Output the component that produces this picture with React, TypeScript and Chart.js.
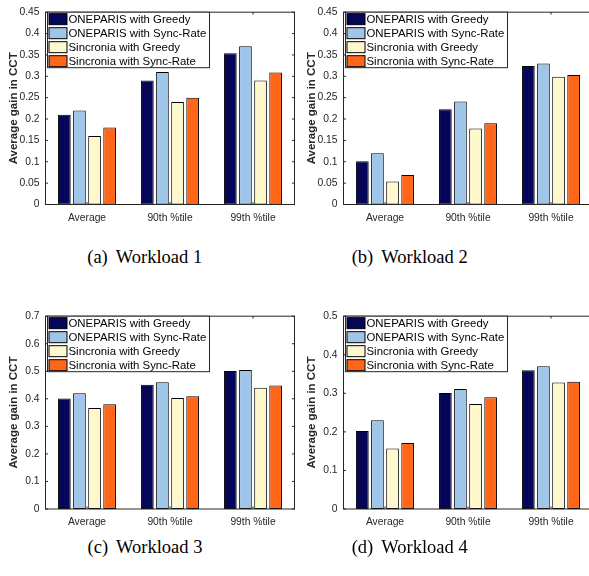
import React, { useEffect, useRef } from "react";
import { Chart, registerables } from "chart.js";

Chart.register(...registerables);

// ---------- data ----------
const categories = ["Average", "90th %tile", "99th %tile"];
const seriesNames = [
  "ONEPARIS with Greedy",
  "ONEPARIS with Sync-Rate",
  "Sincronia with Greedy",
  "Sincronia with Sync-Rate",
];
const seriesColors = ["#05055a", "#9fc5e8", "#fff8cc", "#ff6618"];

// Workload 1
const w1OneparisGreedy = [0.21, 0.29, 0.354];
const w1OneparisSyncRate = [0.22, 0.31, 0.37];
const w1SincroniaGreedy = [0.16, 0.24, 0.29];
const w1SincroniaSyncRate = [0.18, 0.25, 0.309];
// Workload 2
const w2OneparisGreedy = [0.101, 0.223, 0.324];
const w2OneparisSyncRate = [0.12, 0.241, 0.33];
const w2SincroniaGreedy = [0.054, 0.178, 0.299];
const w2SincroniaSyncRate = [0.069, 0.19, 0.303];
// Workload 3
const w3OneparisGreedy = [0.401, 0.451, 0.501];
const w3OneparisSyncRate = [0.42, 0.46, 0.505];
const w3SincroniaGreedy = [0.367, 0.403, 0.44];
const w3SincroniaSyncRate = [0.38, 0.409, 0.448];
// Workload 4
const w4OneparisGreedy = [0.202, 0.301, 0.36];
const w4OneparisSyncRate = [0.23, 0.311, 0.37];
const w4SincroniaGreedy = [0.157, 0.272, 0.328];
const w4SincroniaSyncRate = [0.171, 0.29, 0.33];

const yMaxes = [0.45, 0.45, 0.7, 0.5];
const ySteps = [0.05, 0.05, 0.1, 0.1];
const captionTags = ["(a)", "(b)", "(c)", "(d)"];
const captionTexts = ["Workload 1", "Workload 2", "Workload 3", "Workload 4"];
const yAxisTitle = "Average gain in CCT";

const panelSeries = [
  [w1OneparisGreedy, w1OneparisSyncRate, w1SincroniaGreedy, w1SincroniaSyncRate],
  [w2OneparisGreedy, w2OneparisSyncRate, w2SincroniaGreedy, w2SincroniaSyncRate],
  [w3OneparisGreedy, w3OneparisSyncRate, w3SincroniaGreedy, w3SincroniaSyncRate],
  [w4OneparisGreedy, w4OneparisSyncRate, w4SincroniaGreedy, w4SincroniaSyncRate],
];

// ---------- styling ----------
const SANS = "'Liberation Sans', Arial, Helvetica, sans-serif";
const SERIF = "'Liberation Serif', 'Times New Roman', serif";
const AXIS = "#262626";

const CW = 300;
const CH = 232;

const framePlugin = {
  id: "matlabFrame",
  afterDraw(chart: any) {
    const { ctx, chartArea: ca, scales } = chart;
    const L = ca.left, R = ca.right, T = ca.top, B = ca.bottom;
    const tl = 2.5;
    ctx.save();
    ctx.strokeStyle = AXIS;
    ctx.lineWidth = 1;
    // ticks
    ctx.beginPath();
    const ys = scales.y;
    ys.ticks.forEach((_t: any, i: number) => {
      const p = ys.getPixelForTick(i);
      ctx.moveTo(L, p); ctx.lineTo(L + tl, p);
      ctx.moveTo(R, p); ctx.lineTo(R - tl, p);
    });
    const xs = scales.x;
    xs.ticks.forEach((_t: any, i: number) => {
      const p = xs.getPixelForTick(i);
      ctx.moveTo(p, B); ctx.lineTo(p, B - tl);
      ctx.moveTo(p, T); ctx.lineTo(p, T + tl);
    });
    ctx.stroke();
    // frame
    ctx.strokeRect(L, T, R - L, B - T);

    // legend
    const bx = L + 2, by = T, bw = 162, bh = 55.5;
    ctx.fillStyle = "#ffffff";
    ctx.fillRect(bx, by, bw, bh);
    ctx.strokeStyle = AXIS;
    ctx.strokeRect(bx, by, bw, bh);
    ctx.font = `11.4px ${SANS}`;
    ctx.textBaseline = "middle";
    ctx.textAlign = "left";
    chart.data.datasets.forEach((ds: any, i: number) => {
      const sy = by + 1.5 + i * 14;
      ctx.fillStyle = ds.backgroundColor;
      ctx.fillRect(bx + 1.5, sy, 18, 11);
      ctx.strokeStyle = "#000000";
      ctx.strokeRect(bx + 1.5, sy, 18, 11);
      ctx.fillStyle = "#000000";
      ctx.fillText(ds.label, bx + 21, sy + 6);
    });
    ctx.restore();
  },
};

function Panel({ idx, left, top }: { idx: number; left: number; top: number }) {
  const ref = useRef<HTMLCanvasElement | null>(null);
  useEffect(() => {
    if (!ref.current) return;
    const series = panelSeries[idx];
    const bottomH = idx < 2 ? 27.5 : 27;
    const chart = new Chart(ref.current, {
      type: "bar",
      data: {
        labels: categories,
        datasets: series.map((vals, i) => ({
          label: seriesNames[i],
          data: vals,
          backgroundColor: seriesColors[i],
          borderColor: "#000000",
          borderWidth: 1,
          borderSkipped: false,
          categoryPercentage: 0.727,
          barPercentage: 0.84,
        })),
      },
      options: {
        animation: false,
        responsive: false,
        devicePixelRatio: 1,
        events: [],
        layout: { padding: { top: 9.5, right: 5.5, left: 0, bottom: 0 } },
        plugins: {
          legend: { display: false },
          tooltip: { enabled: false },
          title: { display: false },
        },
        scales: {
          x: {
            type: "category",
            offset: true,
            grid: { display: false, drawTicks: false },
            border: { display: false },
            ticks: {
              font: { family: SANS, size: 10.3 },
              color: AXIS,
              padding: 7,
              maxRotation: 0,
              autoSkip: false,
            },
            afterFit: (s: any) => {
              s.height = bottomH;
            },
          },
          y: {
            type: "linear",
            min: 0,
            max: yMaxes[idx],
            grid: { display: false, drawTicks: false },
            border: { display: false },
            ticks: {
              stepSize: ySteps[idx],
              font: { family: SANS, size: 10.3 },
              color: AXIS,
              padding: 6,
              callback: (v: any) => String(Math.round(Number(v) * 1000) / 1000),
            },
            title: {
              display: true,
              text: yAxisTitle,
              color: AXIS,
              font: { family: SANS, size: 11.5, weight: "bold" },
              padding: { top: 6.6, bottom: 0 },
            },
            afterFit: (s: any) => {
              s.width = 45.5;
            },
          },
        },
      },
      plugins: [framePlugin],
    } as any);
    return () => chart.destroy();
  }, [idx]);

  return (
    <canvas
      ref={ref}
      width={CW}
      height={CH}
      style={{ position: "absolute", left, top, width: CW, height: CH, display: "block" }}
    />
  );
}

function Caption({ idx, cx, cy }: { idx: number; cx: number; cy: number }) {
  return (
    <div
      style={{
        position: "absolute",
        left: cx - 150,
        top: cy - 11.5,
        width: 300,
        height: 20,
        lineHeight: "20px",
        textAlign: "center",
        fontFamily: SERIF,
        fontSize: 18.5,
        color: "#000",
        whiteSpace: "nowrap",
      }}
    >
      <span style={{ marginRight: 8 }}>{captionTags[idx]}</span>
      <span>{captionTexts[idx]}</span>
    </div>
  );
}

export default function App() {
  return (
    <div
      style={{
        position: "absolute",
        left: 0,
        top: 0,
        width: 589,
        height: 576,
        overflow: "hidden",
        background: "#ffffff",
      }}
    >
      <Panel idx={0} left={0} top={0} />
      <Panel idx={1} left={298} top={0} />
      <Panel idx={2} left={0} top={304} />
      <Panel idx={3} left={298} top={304} />
      <Caption idx={0} cx={144.7} cy={258.3} />
      <Caption idx={1} cx={409.7} cy={258.3} />
      <Caption idx={2} cx={145} cy={548.3} />
      <Caption idx={3} cx={409.7} cy={548.3} />
    </div>
  );
}
